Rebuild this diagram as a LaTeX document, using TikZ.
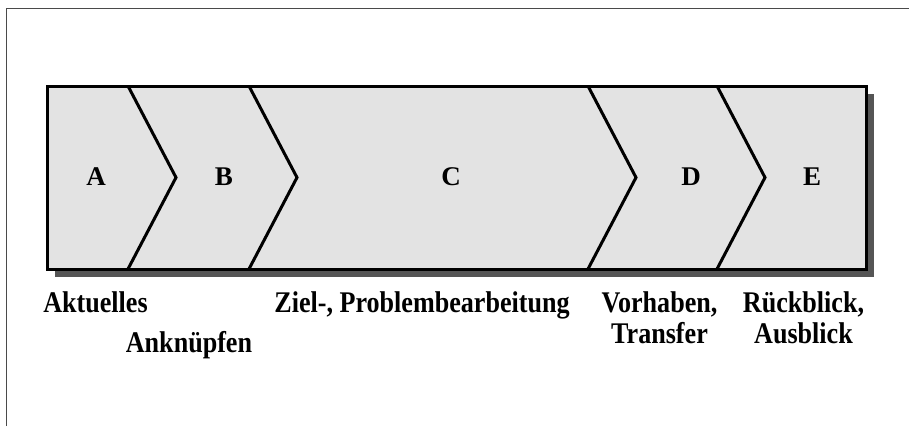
\documentclass[tikz,border=0pt]{standalone}
\usepackage{fontspec}
\setmainfont{Liberation Serif}
\newfontfamily\labfont[FakeStretch=0.87]{Liberation Serif}
\usetikzlibrary{positioning}
\definecolor{panel}{HTML}{E3E3E3}
\definecolor{shadowgray}{HTML}{555555}
\definecolor{framegray}{HTML}{4A4A4A}
\tikzset{phase/.style={font=\fontsize{27}{30}\selectfont\bfseries}, lab/.style={font=\labfont\fontsize{30}{31}\selectfont\bfseries, align=center, inner sep=0pt, anchor=base}, edge/.style={line width=3pt, line join=miter}}

\begin{document}
\begin{tikzpicture}[x=1pt,y=-1pt]
\useasboundingbox (0,0) rectangle (909,426);
\fill[white] (0,0) rectangle (909,426);
\draw[framegray,line width=1.5pt] (6.5,426)--(6.5,8.5)--(909,8.5);
% Schatten und Feld
\fill[shadowgray] (55,94) rectangle (874,277);
\fill[panel] (47,86) rectangle (866,269);
\foreach \x in {128,249,588,717} \draw[edge] (\x,86)--(\x+48,177.5)--(\x,269);
\draw[edge] (47,86) rectangle (866,269);
% Phasen
\node[phase] (pa) at (96,177) {A};
\node[phase] (pb) at (224,177) {B};
\node[phase] (pc) at (451,177) {C};
\node[phase] (pd) at (691,177) {D};
\node[phase] (pe) at (812,177) {E};
\node[lab] (aktuell) at (95.5,312) {Aktuelles};
\node[lab] (anknuepf) at (189,352) {Anknüpfen};
\node[lab] (ziel) at (422,312) {Ziel-, Problembearbeitung};
\node[lab] (vorhaben) at (659.5,343) {Vorhaben,\\Transfer};
\node[lab] (rueck) at (803.5,343) {Rückblick,\\Ausblick};
\end{tikzpicture}
\end{document}
